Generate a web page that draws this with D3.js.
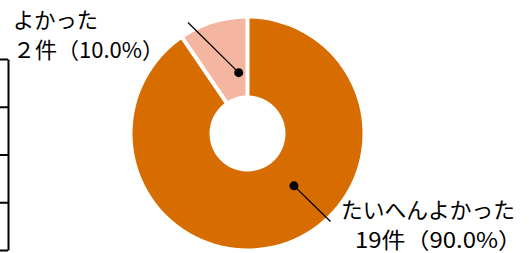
<!DOCTYPE html>
<html>
<head>
<meta charset="utf-8">
<script src="https://cdn.jsdelivr.net/npm/d3@7"></script>
<style>
  body { margin: 0; background: #fff; }
  svg { display: block; }
  text { font-family: "Noto Sans CJK JP", "Noto Sans", sans-serif; fill: #000; }
</style>
</head>
<body>
<div id="chart"></div>
<script>
(function() {

const categories = ["たいへんよかった", "よかった"];
const counts = [19, 2];
const countLabels = ["19件（90.0%）", "２件（10.0%）"];
const colors = ["#D76C00", "#F4B6A0"];
const leftTicks = [0, 1, 2, 3, 4]; // cut-off frame on the left edge

const width = 531,
    height = 253,
    cx = 247.5, cy = 133.5,
    outer = 115, inner = 38;

let svg = d3.select("#chart")
    .append("svg")
    .attr("width", width)
    .attr("height", height);

// left frame (partly outside the picture)
let yl = d3.scaleLinear()
    .domain([0, 4])
    .range([250, 59]);

let frame = svg.append("g")
    .attr("transform", "translate(8,0)")
    .call(d3.axisLeft(yl).tickValues(leftTicks).tickSize(8).tickSizeOuter(0).tickFormat(""));
frame.selectAll("path, line")
    .attr("stroke", "#000")
    .attr("stroke-width", 2);

let data = categories.map((c, i) => ({ name: c, value: counts[i], label: countLabels[i], color: colors[i] }));

let pie = d3.pie()
    .sort(null)
    .value(d => d.value);

let arc = d3.arc()
    .innerRadius(inner)
    .outerRadius(outer)
    .padRadius(100)
    .padAngle(0.04);

let g = svg.append("g")
    .attr("transform", `translate(${cx},${cy})`);

let arcs = pie(data);

g.selectAll(".slice")
    .data(arcs)
    .join("path")
    .attr("class", "slice")
    .attr("fill", d => d.data.color)
    .attr("d", arc);

// leader lines + dots; dot placed at a fraction of the slice, at radius r
const labelPos = [
    { t: 0.425, r: 70, end: [330.5, 221.5], l1: [341, 218], l2: [355, 248], w1: 174, w2: 167 },
    { t: 0.76, r: 61.5, end: [188, 22.5], l1: [13, 28], l2: [13, 58], w1: 85, w2: 151 }
];

arcs.forEach((a, i) => {
    let p = labelPos[i];
    let ang = a.startAngle + p.t * (a.endAngle - a.startAngle);
    let px = cx + p.r * Math.sin(ang),
        py = cy - p.r * Math.cos(ang);

    svg.append("line")
        .attr("x1", px).attr("y1", py)
        .attr("x2", p.end[0]).attr("y2", p.end[1])
        .attr("stroke", "#000")
        .attr("stroke-width", 1.3);

    svg.append("circle")
        .attr("cx", px).attr("cy", py)
        .attr("r", 4.5)
        .attr("fill", "#000");

    svg.append("text")
        .attr("x", p.l1[0]).attr("y", p.l1[1])
        .attr("font-size", 22)
        .attr("textLength", p.w1)
        .attr("lengthAdjust", "spacingAndGlyphs")
        .text(a.data.name);

    svg.append("text")
        .attr("x", p.l2[0]).attr("y", p.l2[1])
        .attr("font-size", 22)
        .attr("textLength", p.w2)
        .attr("lengthAdjust", "spacingAndGlyphs")
        .text(a.data.label);
});

})();
</script>
</body>
</html>
